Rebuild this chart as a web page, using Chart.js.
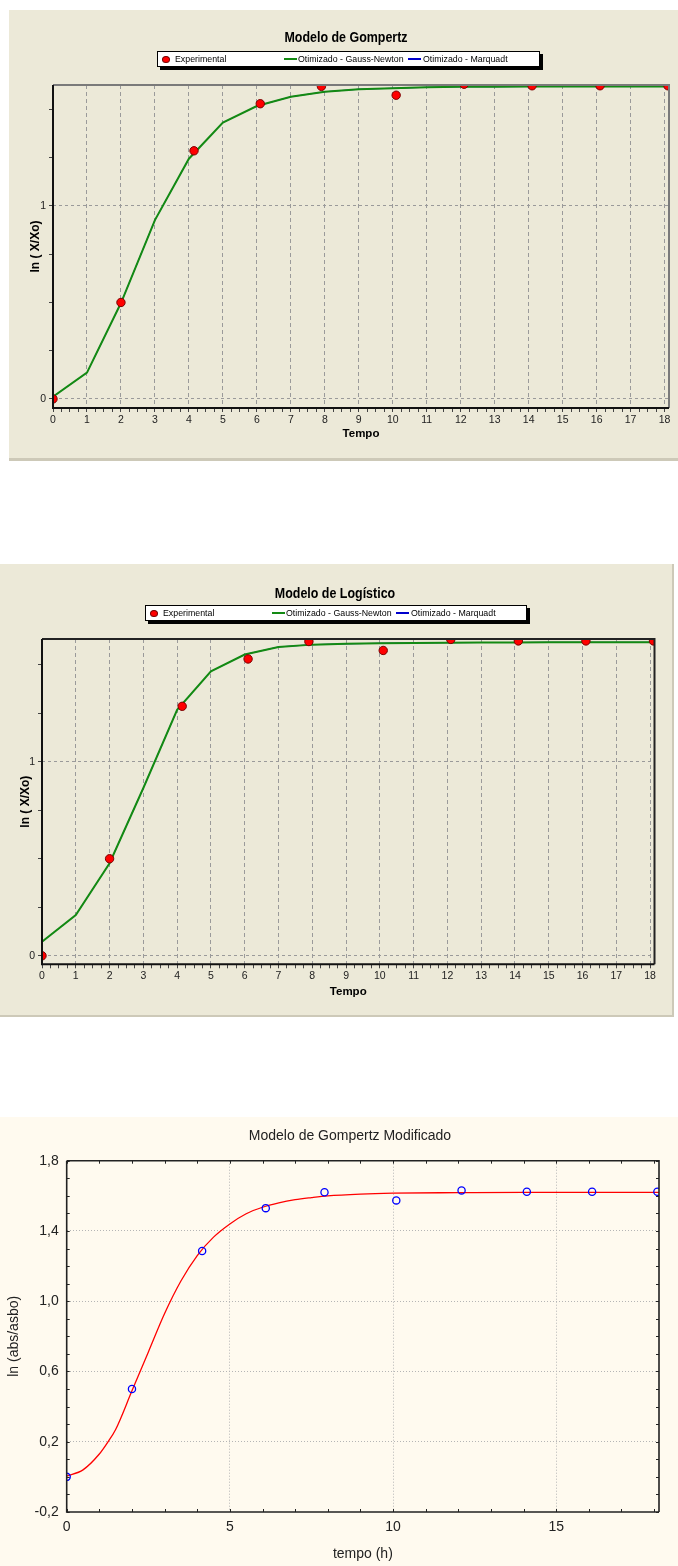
<!DOCTYPE html>
<html>
<head>
<meta charset="utf-8">
<script src="https://cdn.jsdelivr.net/npm/chart.js@4.4.0/dist/chart.umd.min.js"></script>
<style>
  body { margin: 0; width: 678px; height: 1566px; background: #fff; position: relative; overflow: hidden; }
  .panel { position: absolute; }
  .panel canvas { position: absolute; left: 0; top: 0; }
  .wintitle { position: absolute; transform: translate(-50%, -50%) scaleX(0.83); white-space: nowrap; color: #000;
              font: bold 15px "Liberation Sans", Arial, sans-serif; }
  .stattitle { position: absolute; transform: translate(-50%, -50%); white-space: nowrap; color: #222;
               font: 14px "Liberation Sans", Arial, sans-serif; }
  .legend { position: absolute; height: 14px; background: #fff; border: 1px solid #000; box-shadow: 3px 3px 0 #000;
            font: 8.8px "Liberation Sans", Arial, sans-serif; color: #000; }
  .legend .txt { position: absolute; top: 0; line-height: 14px; white-space: nowrap; }
  .legend .dot { position: absolute; top: 4px; width: 6px; height: 5px; border-radius: 50%; border: 1px solid #700; background: #f00; }
  .legend .ln { position: absolute; top: 6px; width: 13px; height: 2px; }
</style>
</head>
<body>

<div class="panel" style="left:9px;top:10px;width:669px;height:448px;background:#ECE9D8;border-bottom:3px solid #cdc9b8">
  <canvas id="gompertz" width="669" height="448"></canvas>
  <div class="wintitle" style="left:337px;top:26px">Modelo de Gompertz</div>
  <div class="legend" id="lgGompertz" style="left:148px;top:41px;width:381px"></div>
</div>

<div class="panel" style="left:0;top:564px;width:672px;height:451px;background:#ECE9D8;border-right:2px solid #cdc9b8;border-bottom:2px solid #cdc9b8">
  <canvas id="logistico" width="672" height="451"></canvas>
  <div class="wintitle" style="left:335px;top:28px">Modelo de Logístico</div>
  <div class="legend" id="lgLogistico" style="left:145px;top:41px;width:380px"></div>
</div>

<div class="panel" style="left:0;top:1117px;width:678px;height:449px;background:#FFFAEF">
  <canvas id="modificado" width="678" height="449"></canvas>
  <div class="stattitle" style="left:350px;top:18px">Modelo de Gompertz Modificado</div>
</div>

<script>
// experimental points (same in all three charts)
const tempoExp = [0, 2, 4.15, 6.1, 7.9, 10.1, 12.1, 14.1, 16.1, 18.1];
const lnExp = [0, 0.5, 1.286, 1.53, 1.62, 1.574, 1.631, 1.623, 1.623, 1.623];

// fitted curves, read at each hour
const tempoFit = [0, 1, 2, 3, 4, 5, 6, 7, 8, 9, 10, 11, 12, 13, 14, 15, 16, 17, 18];
const gompertzGN = [0.012, 0.136, 0.497, 0.927, 1.245, 1.432, 1.518, 1.566, 1.592, 1.605, 1.61, 1.615, 1.618, 1.618, 1.619, 1.619, 1.619, 1.619, 1.619];
const gompertzMarq = [0.012, 0.136, 0.497, 0.927, 1.245, 1.432, 1.518, 1.566, 1.592, 1.605, 1.61, 1.615, 1.618, 1.618, 1.619, 1.619, 1.619, 1.619, 1.619];
const logisticoGN = [0.072, 0.21, 0.477, 0.865, 1.268, 1.466, 1.553, 1.592, 1.604, 1.608, 1.611, 1.613, 1.614, 1.615, 1.615, 1.616, 1.616, 1.616, 1.616];
const logisticoMarq = [0.072, 0.21, 0.477, 0.865, 1.268, 1.466, 1.553, 1.592, 1.604, 1.608, 1.611, 1.613, 1.614, 1.615, 1.615, 1.616, 1.616, 1.616, 1.616];

// modified gompertz curve (Statistica plot)
const tempoMod = [0, 0.5, 1, 1.25, 1.5, 2, 2.5, 3, 3.5, 4, 4.5, 5, 5.5, 6, 6.5, 7, 7.5, 8, 9, 10, 12, 14, 16, 18.15];
const gompertzMod = [0.005, 0.04, 0.13, 0.195, 0.27, 0.49, 0.71, 0.93, 1.115, 1.26, 1.365, 1.44, 1.498, 1.535, 1.56, 1.578, 1.59, 1.6, 1.61, 1.615, 1.618, 1.62, 1.62, 1.62];

// tick labels
const xLabels = [0, 1, 2, 3, 4, 5, 6, 7, 8, 9, 10, 11, 12, 13, 14, 15, 16, 17, 18];
const yLabels = [0, 1];
const xLabelsMod = [0, 5, 10, 15];
const yLabelsMod = [-0.2, 0.2, 0.6, 1.0, 1.4, 1.8];

Chart.defaults.color = '#000';
const arial = '"Liberation Sans", Arial, sans-serif';

function pts(xs, ys) {
    return xs.map((x, i) => ({ x: x, y: ys[i] }));
}

function steps(from, to, step) {
    const out = [];
    const n = Math.round((to - from) / step);
    for (let i = 0; i <= n; i++) out.push(Math.round((from + i * step) * 1000) / 1000);
    return out;
}

function isLabel(list, v) {
    return list.some(l => Math.abs(l - v) < 1e-6);
}

// box around the plot area, optional small ticks pointing inside
const frame = {
    id: 'frame',
    afterDatasetsDraw(chart, args, o) {
        const { ctx, chartArea: a } = chart;
        ctx.save();
        ctx.lineWidth = o.width;
        ctx.strokeStyle = o.sideColor || o.color;
        ctx.beginPath();
        ctx.moveTo(a.left, a.top); ctx.lineTo(a.right, a.top); ctx.lineTo(a.right, a.bottom);
        ctx.stroke();
        ctx.strokeStyle = o.color;
        ctx.beginPath();
        ctx.moveTo(a.left, a.top); ctx.lineTo(a.left, a.bottom); ctx.lineTo(a.right, a.bottom);
        ctx.stroke();
        if (o.inner) {
            ctx.lineWidth = 1;
            ctx.beginPath();
            chart.scales.x.ticks.forEach(t => {
                const px = Math.round(chart.scales.x.getPixelForValue(t.value)) + 0.5;
                ctx.moveTo(px, a.bottom); ctx.lineTo(px, a.bottom - o.inner);
                ctx.moveTo(px, a.top); ctx.lineTo(px, a.top + o.inner);
            });
            chart.scales.y.ticks.forEach(t => {
                const py = Math.round(chart.scales.y.getPixelForValue(t.value)) + 0.5;
                ctx.moveTo(a.left, py); ctx.lineTo(a.left + o.inner, py);
                ctx.moveTo(a.right, py); ctx.lineTo(a.right - o.inner, py);
            });
            ctx.stroke();
        }
        ctx.restore();
    }
};

function buildLegend(el, chart) {
    const pos = [[8, 17], [126, 140], [250, 265]];
    chart.data.datasets.forEach((ds, i) => {
        const mark = document.createElement('span');
        if (ds.showLine) {
            mark.className = 'ln';
            mark.style.left = pos[i][0] + 'px';
            mark.style.background = ds.borderColor;
        } else {
            mark.className = 'dot';
            mark.style.left = (pos[i][0] - 4) + 'px';
        }
        const txt = document.createElement('span');
        txt.className = 'txt';
        txt.style.left = pos[i][1] + 'px';
        txt.textContent = ds.label;
        el.appendChild(mark);
        el.appendChild(txt);
    });
}

function modeloXP(id, legendId, fitGN, fitMarq, cfg) {
    const chart = new Chart(document.getElementById(id), {
        type: 'scatter',
        data: {
            datasets: [
                {
                    label: 'Experimental',
                    data: pts(tempoExp, lnExp),
                    pointRadius: 4.2,
                    backgroundColor: '#ff0000',
                    borderColor: '#7a0000',
                    borderWidth: 1,
                    clip: 0
                },
                {
                    label: 'Otimizado - Gauss-Newton',
                    data: pts(tempoFit, fitGN),
                    showLine: true,
                    pointRadius: 0,
                    borderColor: '#138a13',
                    borderWidth: 2,
                    clip: 0
                },
                {
                    label: 'Otimizado - Marquadt',
                    data: pts(tempoFit, fitMarq),
                    showLine: true,
                    pointRadius: 0,
                    borderColor: '#0000cc',
                    borderWidth: 1,
                    clip: 0
                }
            ]
        },
        options: {
            responsive: false,
            animation: false,
            events: [],
            layout: { padding: { left: 0, top: cfg.top, right: cfg.right, bottom: 0 } },
            plugins: {
                legend: { display: false },
                tooltip: { enabled: false },
                frame: { width: 2, color: '#111', sideColor: cfg.sideColor }
            },
            scales: {
                x: {
                    type: 'linear',
                    min: 0,
                    max: 18.13,
                    afterBuildTicks: s => { s.ticks = steps(0, 18, 0.25).map(v => ({ value: v })); },
                    afterFit: s => { s.height = cfg.xHeight; },
                    ticks: {
                        autoSkip: false,
                        maxRotation: 0,
                        padding: 2,
                        color: '#222',
                        font: { family: arial, size: 10.5 },
                        callback: v => isLabel(xLabels, v) ? v : ''
                    },
                    grid: {
                        color: c => (c.tick && isLabel(xLabels, c.tick.value)) ? '#9a9a9a' : 'rgba(0,0,0,0)',
                        tickColor: '#444',
                        tickLength: 4
                    },
                    border: { display: false, dash: [4, 3] },
                    title: {
                        display: true,
                        text: 'Tempo',
                        font: { family: arial, size: 11.5, weight: 'bold' },
                        padding: { top: 0, bottom: cfg.xTitlePad }
                    }
                },
                y: {
                    type: 'linear',
                    min: cfg.yMin,
                    max: cfg.yMax,
                    afterBuildTicks: s => { s.ticks = steps(0, 1.5, 0.25).map(v => ({ value: v })); },
                    afterFit: s => { s.width = cfg.yWidth; },
                    ticks: {
                        padding: 3,
                        color: '#222',
                        font: { family: arial, size: 10.5 },
                        callback: v => isLabel(yLabels, v) ? v : ''
                    },
                    grid: {
                        color: c => (c.tick && isLabel(yLabels, c.tick.value)) ? '#9a9a9a' : 'rgba(0,0,0,0)',
                        tickColor: '#444',
                        tickLength: 4
                    },
                    border: { display: false, dash: [3, 3] },
                    title: {
                        display: true,
                        text: 'ln ( X/Xo)',
                        font: { family: arial, size: 12, weight: 'bold' },
                        padding: { top: cfg.yTitlePad, bottom: 0 }
                    }
                }
            }
        },
        plugins: [frame]
    });
    buildLegend(document.getElementById(legendId), chart);
    return chart;
}

modeloXP('gompertz', 'lgGompertz', gompertzGN, gompertzMarq, {
    top: 75, right: 9, xHeight: 50, yWidth: 44,
    yMin: -0.047, yMax: 1.627,
    xTitlePad: 17, yTitlePad: 19, sideColor: '#7a7a7a'
});

modeloXP('logistico', 'lgLogistico', logisticoGN, logisticoMarq, {
    top: 75, right: 17.5, xHeight: 50.7, yWidth: 42,
    yMin: -0.044, yMax: 1.633,
    xTitlePad: 16.5, yTitlePad: 18, sideColor: '#222'
});

new Chart(document.getElementById('modificado'), {
    type: 'scatter',
    data: {
        datasets: [
            {
                label: 'ln (abs/asbo)',
                data: pts(tempoExp, lnExp),
                pointRadius: 3.6,
                backgroundColor: 'rgba(0,0,0,0)',
                borderColor: '#0000ff',
                borderWidth: 1.3,
                clip: 0
            },
            {
                label: 'Gompertz modificado',
                data: pts(tempoMod, gompertzMod),
                showLine: true,
                pointRadius: 0,
                borderColor: '#ff0000',
                borderWidth: 1.3,
                cubicInterpolationMode: 'monotone',
                clip: 0
            }
        ]
    },
    options: {
        responsive: false,
        animation: false,
        events: [],
        layout: { padding: { left: 0, top: 43.7, right: 19, bottom: 0 } },
        plugins: {
            legend: { display: false },
            tooltip: { enabled: false },
            frame: { width: 1.6, color: '#222', inner: 3 }
        },
        scales: {
            x: {
                type: 'linear',
                min: 0,
                max: 18.15,
                afterBuildTicks: s => { s.ticks = steps(0, 18, 1).map(v => ({ value: v })); },
                afterFit: s => { s.height = 54; },
                ticks: {
                    autoSkip: false,
                    maxRotation: 0,
                    padding: 7,
                    color: '#222',
                    font: { family: arial, size: 14 },
                    callback: v => isLabel(xLabelsMod, v) ? v : ''
                },
                grid: {
                    drawTicks: false,
                    color: c => (c.tick && isLabel(xLabelsMod, c.tick.value) && c.tick.value > 0) ? '#b5b5b5' : 'rgba(0,0,0,0)'
                },
                border: { display: false, dash: [1, 2] },
                title: {
                    display: true,
                    text: 'tempo (h)',
                    color: '#222',
                    font: { family: arial, size: 14 },
                    padding: { top: 0, bottom: 3.6 }
                }
            },
            y: {
                type: 'linear',
                min: -0.2,
                max: 1.8,
                afterBuildTicks: s => { s.ticks = steps(-0.2, 1.8, 0.1).map(v => ({ value: v })); },
                afterFit: s => { s.width = 66.7; },
                ticks: {
                    autoSkip: false,
                    padding: 8,
                    color: '#222',
                    font: { family: arial, size: 14 },
                    callback: v => isLabel(yLabelsMod, v) ? v.toFixed(1).replace('.', ',') : ''
                },
                grid: {
                    drawTicks: false,
                    color: c => (c.tick && isLabel(yLabelsMod, c.tick.value) && c.tick.value > -0.2 && c.tick.value < 1.8) ? '#b5b5b5' : 'rgba(0,0,0,0)'
                },
                border: { display: false, dash: [1, 2] },
                title: {
                    display: true,
                    text: 'ln (abs/asbo)',
                    color: '#222',
                    font: { family: arial, size: 14 },
                    padding: { top: 5.6, bottom: 0 }
                }
            }
        }
    },
    plugins: [frame]
});
</script>
</body>
</html>
